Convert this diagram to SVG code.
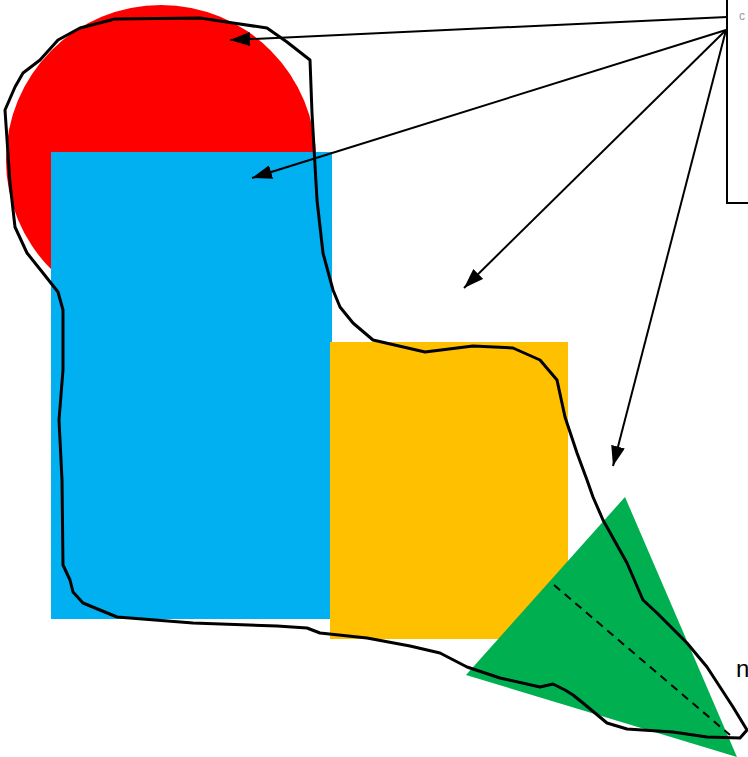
<svg xmlns="http://www.w3.org/2000/svg" width="748" height="757" viewBox="0 0 748 757">
<style>
.conn{stroke:#000;stroke-width:2;fill:none}
.blob{stroke:#000;stroke-width:3;fill:none;stroke-linejoin:round;stroke-linecap:round}
.lbl{font-family:"Liberation Sans",Arial,sans-serif;font-size:24px;fill:#000}
</style>
<defs>
<marker id="ah2" viewBox="0 0 20 14" refX="20" refY="7" markerWidth="20" markerHeight="14" markerUnits="userSpaceOnUse" orient="auto">
<path d="M0,0 L20,7 L0,14 Z" fill="#000"/>
</marker>
</defs>
<rect width="748" height="757" fill="#fff"/>
<g id="circle"><circle cx="161" cy="160" r="155" fill="#FF0000"/></g>
<g id="blue-rect"><rect x="51" y="152" width="281" height="467" fill="#00B0F0"/></g>
<g id="yellow-rect"><rect x="330" y="342" width="238" height="297" fill="#FFC000"/></g>
<g id="triangle">
<polygon points="625,497 466,675 737,757" fill="#00B050"/>
<line x1="554" y1="585" x2="730" y2="735" stroke="#000" stroke-width="2" stroke-dasharray="8,6"/>
</g>
<g id="blob">
<path class="blob" d="M115,19 L200,18 L233,23 L267,28 L287,42 L310,60 L312,113 L317,200 L323,253 L333,290 L340,307 L353,323 L373,340 L425,352 L473,346 L513,348 L540,360 L557,380 L565,417 L577,453 L587,480 L593,497 L603,520 L627,563 L643,600 L657,613 L687,643 L707,667 L733,707 L747,730 L740,738 L707,737 L673,732 L627,729 L607,723 L583,703 L573,695 L565,690 L553,684 L540,687 L500,678 L467,667 L440,653 L410,646 L367,638 L320,633 L307,628 L277,626 L193,623 L117,617 L83,603 L73,592 L70,580 L63,565 L62,480 L59,420 L63,370 L63,310 L58,292 L43,273 L27,253 L15,227 L10,183 L5,110 L15,87 L23,73 L40,60 L58,40 L80,28 Z"/>
</g>
<g id="label-box">
<path d="M727,0 L727,203 L748,203" stroke="#000" stroke-width="2" fill="none"/>
<text x="739" y="20" class="lbl" style="font-size:12px;fill:#999">c</text>
</g>
<g id="label-m"><text x="736" y="677" class="lbl">n</text></g>
<g id="connectors">
<line class="conn" x1="727" y1="17" x2="230" y2="40" marker-end="url(#ah2)"/>
<line class="conn" x1="726" y1="30" x2="252" y2="178" marker-end="url(#ah2)"/>
<line class="conn" x1="726" y1="30" x2="464" y2="288" marker-end="url(#ah2)"/>
<line class="conn" x1="726" y1="30" x2="613" y2="466" marker-end="url(#ah2)"/>
</g>
</svg>
